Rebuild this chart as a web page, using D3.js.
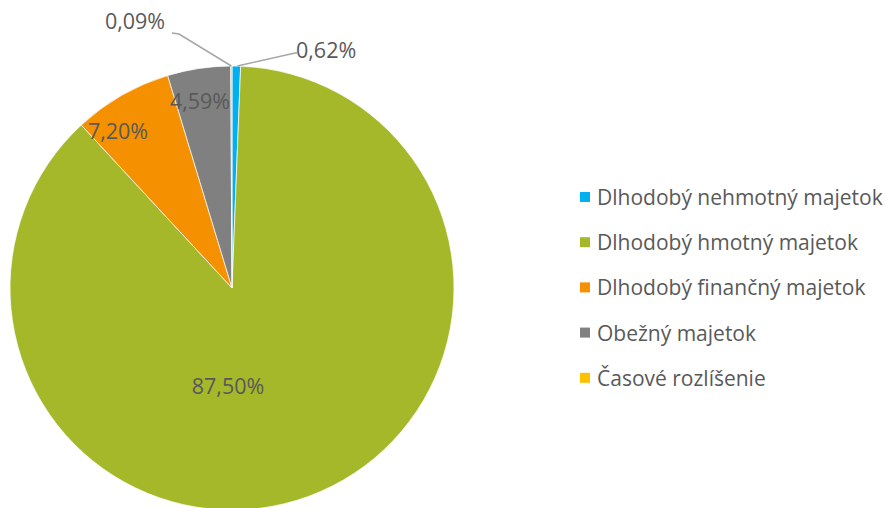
<!DOCTYPE html>
<html><head><meta charset="utf-8">
<script src="https://cdn.jsdelivr.net/npm/d3@7"></script>
<style>body{margin:0;background:#fff}svg{display:block}text{font-family:"Open Sans",sans-serif;fill:#595959}</style>
</head><body><svg id="c" width="885" height="508"></svg>
<script>
const categories = ["Dlhodobý nehmotný majetok","Dlhodobý hmotný majetok","Dlhodobý finančný majetok","Obežný majetok","Časové rozlíšenie"];
const values = [0.62, 87.50, 7.20, 4.59, 0.09];
const labels = ["0,62%","87,50%","7,20%","4,59%","0,09%"];
const colors = ["#00B0F0","#A5B82A","#F59100","#808080","#FFC000"];

const svg = d3.select("#c");
const cx = 232, cy = 288, R = 222;
const g = svg.append("g").attr("transform",`translate(${cx},${cy})`);
const pie = d3.pie().sort(null).value(d=>d);
const arcs = pie(values);
const arc = d3.arc().innerRadius(0).outerRadius(R);
g.selectAll("path").data(arcs).enter().append("path")
  .attr("d",arc).attr("fill",(d,i)=>colors[i]).attr("stroke","#fff").attr("stroke-width",0.7);

const fs = 21.5, lfs = 21;
const inside = {1:[-4,97],2:[-114,-158],3:[-32,-188]};
arcs.forEach((d,i)=>{
  if(inside[i]){
    const pos = inside[i];
    g.append("text").attr("x",pos[0]).attr("y",pos[1]).attr("text-anchor","middle")
      .attr("dominant-baseline","central").attr("font-size",fs).text(labels[i]);
  }
});
const pt = (a,r)=>[Math.sin(a)*r, -Math.cos(a)*r];
function mid(d){return (d.startAngle+d.endAngle)/2;}
{
  const d = arcs[0]; const p = pt(mid(d),R);
  const line = [[p[0]+1,p[1]],[63,-235],[65,-235]];
  g.append("path").attr("d",d3.line()(line)).attr("fill","none").attr("stroke","#A6A6A6").attr("stroke-width",1.5);
  g.append("text").attr("x",64).attr("y",-239).attr("dominant-baseline","central").attr("font-size",fs).text(labels[0]);
}
{
  const d = arcs[4]; const p = pt(mid(d),R);
  const line = [[p[0],p[1]],[-53,-254],[-60,-255]];
  g.append("path").attr("d",d3.line()(line)).attr("fill","none").attr("stroke","#A6A6A6").attr("stroke-width",1.5);
  g.append("text").attr("x",-97).attr("y",-268).attr("text-anchor","middle").attr("dominant-baseline","central").attr("font-size",fs).text(labels[4]);
}
const lg = svg.append("g").attr("transform","translate(580,197)");
const step = 45.2;
categories.forEach((c,i)=>{
  const y = i*step;
  lg.append("rect").attr("x",0).attr("y",y-5).attr("width",10).attr("height",10).attr("fill",colors[i]);
  lg.append("text").attr("x",17).attr("y",y).attr("dominant-baseline","central").attr("font-size",lfs).text(c);
});
</script></body></html>
